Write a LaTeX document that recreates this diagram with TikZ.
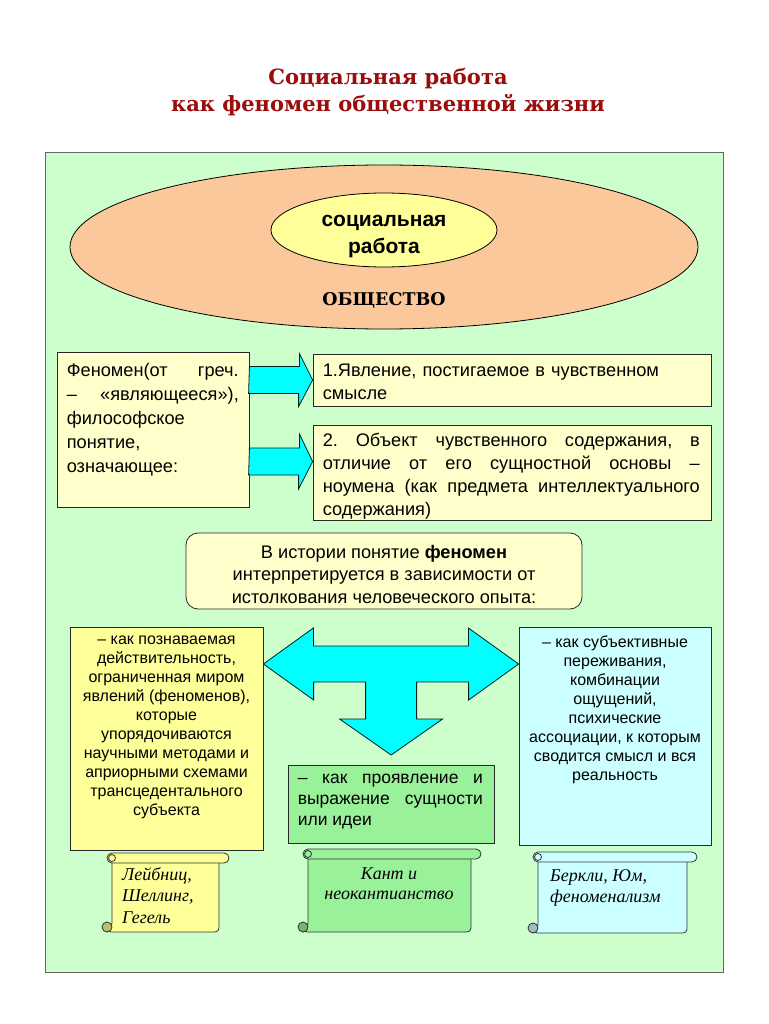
\documentclass[tikz,border=0pt]{standalone}
\usepackage{fontspec}
\setmainfont{Liberation Sans}
\newfontfamily\titlefont{DejaVu Serif}
\newfontfamily\scrollfont{Liberation Serif}
\usetikzlibrary{shapes.geometric,fit,calc}
\hyphenpenalty=10000
\exhyphenpenalty=10000
\frenchspacing
\setlength{\parindent}{0pt}

\definecolor{titlered}{RGB}{155,12,12}
\definecolor{panelgreen}{RGB}{204,255,204}
\definecolor{peach}{RGB}{250,200,155}
\definecolor{lightyellow}{RGB}{255,255,204}
\definecolor{paleyellow}{RGB}{255,255,153}
\definecolor{paleblue}{RGB}{204,255,255}
\definecolor{palegreen}{RGB}{153,242,153}
\definecolor{arrowcyan}{RGB}{0,255,255}
\definecolor{edgegray}{RGB}{40,40,40}

\tikzset{
	box/.style={draw=edgegray, line width=0.8pt, inner sep=0pt},
	txt/.style={inner sep=0pt, font=\fontsize{18.2}{23}\selectfont},
	smalltxt/.style={inner sep=0pt, align=center, font=\fontsize{16}{19}\selectfont},
	scrolltxt/.style={inner sep=0pt, font=\scrollfont\itshape\fontsize{18}{21.5}\selectfont},
	blockarrow/.style={draw=black!75!teal, fill=arrowcyan, line width=0.8pt, line join=miter},
	scrollline/.style={draw=black!80, line width=0.8pt},
}

% Schriftrolle: x1, y1, x2, y2, Farbe
\newcommand{\scrollshape}[5]{%
	\filldraw[scrollline, fill=#5, rounded corners=4pt] (#1+10,#2+5) -- (#3-10,#2+5)
	-- (#3-10,#4) -- (#1+5,#4) -- (#1+10,#4-5) -- cycle;
	\filldraw[scrollline, fill=#5, rounded corners=5pt] (#1+5,#2) rectangle (#3,#2+10);
	\draw[scrollline] (#1+10,#2+5) circle (3.5);
	\filldraw[scrollline, fill=#5!75!black] (#1+5,#4-5) circle (5);
}

\begin{document}
\begin{tikzpicture}[x=1pt, y=-1pt]
	\useasboundingbox (0,0) rectangle (768,1024);
	% Ueberschrift
	\node (title) [align=center, text=titlered,
		font=\titlefont\bfseries\fontsize{21}{27}\selectfont] at (388,92)
		{Социальная работа\\как феномен общественной жизни};
	% Hintergrund
	\filldraw[draw=black!60, fill=panelgreen, line width=0.8pt] (45,152) rectangle (723,972);
	% Ellipsen
	\node (society) [ellipse, draw=black, fill=peach, line width=0.8pt,
		minimum width=628, minimum height=164] at (384,247) {};
	\node (socwork) [ellipse, draw=black, fill=paleyellow, line width=0.8pt,
		minimum width=226, minimum height=74] at (384,230) {};
	\node (socworktext) [align=center, inner sep=0pt, font=\bfseries\fontsize{21}{27}\selectfont]
		at (384,237) {социальная\\работа};
	\node (obshch) [font=\titlefont\bfseries\fontsize{17.5}{20}\selectfont] at (384,300) {ОБЩЕСТВО};

	% Kaesten
	\node (feno) [box, fill=lightyellow, fit={(57,352) (249,507)}] {};
	\node (yav) [box, fill=lightyellow, fit={(313,354) (711,406)}] {};
	\node (obj) [box, fill=lightyellow, fit={(313,425) (711,520)}] {};
	\node (hist) [box, fill=lightyellow, rounded corners=12pt, fit={(186,533) (582,609)}] {};
	\node (poz) [box, fill=paleyellow, fit={(70,627) (263,850)}] {};
	\node (sub) [box, fill=paleblue, fit={(519,627) (711,845)}] {};
	\node (proj) [box, fill=palegreen, fit={(288,765) (494,843)}] {};

	% Texte
	\node (fenotext) [txt, anchor=north west, text width=172, align=justify, font=\fontsize{18.2}{24}\selectfont]
		at ([shift={(10,12)}]feno.north west)
		{Феномен(от греч.\linebreak – «являющееся»),\linebreak философское\newline понятие,\newline означающее:};
	\node (yavtext) [txt, anchor=north west, text width=377, align=left]
		at ([shift={(10,10)}]yav.north west)
		{1.Явление, постигаемое в чувственном\\смысле};
	\node (objtext) [txt, anchor=north west, text width=377, align=justify]
		at ([shift={(10,8.5)}]obj.north west)
		{2. Объект чувственного содержания, в\linebreak отличие от его сущностной основы –\linebreak
		ноумена (как предмета интеллектуального\linebreak содержания)};
	\node (histtext) [txt, anchor=north, align=center, font=\fontsize{18.2}{22.5}\selectfont]
		at ([shift={(0,12.5)}]hist.north)
		{В истории понятие \textbf{феномен}\\интерпретируется в зависимости от\\истолкования человеческого опыта:};
	\node (poztext) [smalltxt, anchor=north] at ([shift={(0,9)}]poz.north)
		{– как познаваемая\\действительность,\\ограниченная миром\\явлений (феноменов),\\которые\\упорядочиваются\\
		научными методами и\\априорными схемами\\трансцедентального\\субъекта};
	\node (subtext) [smalltxt, anchor=north] at ([shift={(0,9)}]sub.north)
		{– как субъективные\\переживания,\\комбинации\\ощущений,\\психические\\ассоциации, к которым\\
		сводится смысл и вся\\реальность};
	\node (projtext) [txt, anchor=north west, text width=185, align=justify, font=\fontsize{17.5}{21}\selectfont]
		at ([shift={(10,9)}]proj.north west)
		{– как проявление и\linebreak выражение сущности\linebreak или идеи};

	% Pfeile
	\coordinate (a1) at (feno.east |- yav.west);
	\draw[blockarrow] ($(a1)+(0,-13.5)$) -- ++(50,0) -- ++(0,-13) -- (yav.west)
		-- ++(-14,26.5) -- ++(0,-13) -- ++(-50,0) -- cycle;
	\coordinate (tip2) at ($(obj.west)+(0,-11)$);
	\coordinate (a2) at (feno.east |- tip2);
	\draw[blockarrow] ($(a2)+(0,-13.5)$) -- ++(50,0) -- ++(0,-14) -- (tip2)
		-- ++(-14,27.5) -- ++(0,-14) -- ++(-50,0) -- cycle;
	\coordinate (tc) at (390.5,664);
	\draw[blockarrow] (poz.east |- tc) -- ++(50,-36) -- ++(0,18) -- ++(155,0) -- ++(0,-18)
		-- (sub.west |- tc) -- ++(-50,36) -- ++(0,-18) -- ++(-52,0) -- ++(0,37) -- ++(26,0)
		-- ++(-51.5,36) -- ++(-51.5,-36) -- ++(26,0) -- ++(0,-37) -- ++(-52,0) -- ++(0,18) -- cycle;

	% Schriftrollen
	\scrollshape{102}{853}{229}{932}{paleyellow}
	\scrollshape{298}{849}{481}{932}{palegreen}
	\scrollshape{528}{852}{697}{933}{paleblue}
	\node (leibniz) [scrolltxt, anchor=north west, align=left] at (122,867)
		{Лейбниц,\\Шеллинг,\\Гегель};
	\node (kant) [scrolltxt, anchor=north, align=center, font=\scrollfont\itshape\fontsize{18}{20}\selectfont]
		at (389,868) {Кант и\\неокантианство};
	\node (berkeley) [scrolltxt, anchor=north west, align=left] at (550,869)
		{Беркли, Юм,\\феноменализм};
\end{tikzpicture}
\end{document}
